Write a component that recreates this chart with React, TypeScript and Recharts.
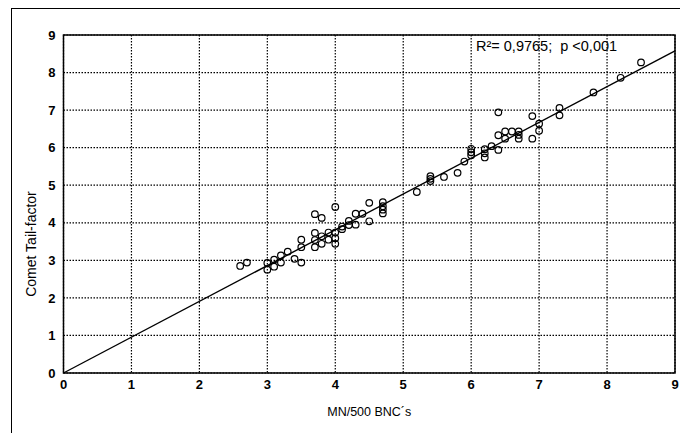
import { ScatterChart, Scatter, XAxis, YAxis, CartesianGrid, ReferenceArea } from 'recharts';

// MN/500 BNC's vs comet tail-factor
const mnValues = [
  2.6, 2.7, 3.0, 3.0, 3.1, 3.1, 3.2, 3.2, 3.3, 3.4,
  3.5, 3.5, 3.5, 3.7, 3.8, 3.7, 3.7, 3.7, 3.8, 3.8,
  3.9, 3.9, 4.0, 4.0, 4.0, 4.0, 4.1, 4.1, 4.2, 4.2,
  4.3, 4.3, 4.4, 4.5, 4.5, 4.7, 4.7, 4.7, 4.7, 5.2,
  5.4, 5.4, 5.4, 5.6, 5.8, 5.9, 6.0, 6.0, 6.0, 6.2,
  6.2, 6.2, 6.3, 6.4, 6.4, 6.4, 6.5, 6.5, 6.6, 6.7,
  6.7, 6.7, 6.9, 6.9, 7.0, 7.0, 7.3, 7.3, 7.8, 8.2,
  8.5,
];
const tailValues = [
  2.85, 2.94, 2.93, 2.75, 3.02, 2.83, 3.13, 2.94, 3.23, 3.04,
  3.55, 3.35, 2.94, 4.23, 4.13, 3.73, 3.54, 3.35, 3.64, 3.44,
  3.74, 3.55, 4.42, 3.74, 3.59, 3.44, 3.9, 3.83, 4.05, 3.94,
  4.24, 3.95, 4.24, 4.53, 4.04, 4.55, 4.44, 4.35, 4.25, 4.82,
  5.24, 5.17, 5.11, 5.22, 5.33, 5.63, 5.97, 5.88, 5.8, 5.96,
  5.85, 5.74, 6.04, 5.94, 6.94, 6.33, 6.43, 6.24, 6.43, 6.43,
  6.34, 6.24, 6.84, 6.24, 6.64, 6.45, 7.06, 6.86, 7.47, 7.86,
  8.27,
];

// fitted regression line end points
const fitX = [0, 9];
const fitY = [0, 8.58];

const ticks = [0, 1, 2, 3, 4, 5, 6, 7, 8, 9];

const points = mnValues.map((x, i) => ({ x, y: tailValues[i] }));
const fitLine = fitX.map((x, i) => ({ x, y: fitY[i] }));

const font = '"Liberation Sans", Arial, sans-serif';
const tickStyle = { fontSize: 13, fontWeight: 700, fill: '#000', fontFamily: font };

const OpenCircle = (props: any) => (
  <circle cx={props.cx} cy={props.cy} r={3.3} fill="none" stroke="#000" strokeWidth={1.2} />
);

export default function App() {
  return (
    <div style={{ position: 'absolute', left: 0, top: 0, width: 680, height: 433, overflow: 'hidden', background: '#fff', fontFamily: font }}>
      <div style={{ position: 'absolute', left: 11, top: 8, width: 720, height: 500, border: '1.5px solid #000' }} />
      <ScatterChart width={680} height={433} margin={{ top: 35, right: 5, bottom: 0, left: 0 }}>
        <CartesianGrid stroke="#000" strokeDasharray="1.5 1.5" strokeWidth={1.2} />
        <XAxis
          type="number"
          dataKey="x"
          domain={[0, 9]}
          ticks={ticks}
          height={60}
          tickSize={0}
          tickMargin={7}
          axisLine={false}
          tick={tickStyle}
          label={{ value: 'MN/500 BNC´s', position: 'insideBottom', offset: 17, fill: '#000', fontSize: 12.5, fontFamily: font }}
        />
        <YAxis
          type="number"
          dataKey="y"
          domain={[0, 9]}
          ticks={ticks}
          width={63.5}
          tickSize={0}
          tickMargin={8}
          axisLine={false}
          tick={tickStyle}
          label={() => (
            <text x={36} y={244} transform="rotate(-90 36 244)" textAnchor="middle" fill="#000" fontSize={14} fontFamily={font}>
              Comet Tail-factor
            </text>
          )}
        />
        <ReferenceArea x1={0} x2={9} y1={0} y2={9} fill="none" stroke="#000" strokeWidth={1.5} fillOpacity={0} />
        <Scatter data={fitLine} line={{ stroke: '#000', strokeWidth: 1.4 }} shape={() => <g />} isAnimationActive={false} />
        <Scatter data={points} shape={OpenCircle} isAnimationActive={false} />
      </ScatterChart>
      <div style={{ position: 'absolute', left: 476, top: 38, fontSize: 14.5, color: '#000', whiteSpace: 'pre' }}>
        R²= 0,9765;  p {'<'}0,001
      </div>
    </div>
  );
}
